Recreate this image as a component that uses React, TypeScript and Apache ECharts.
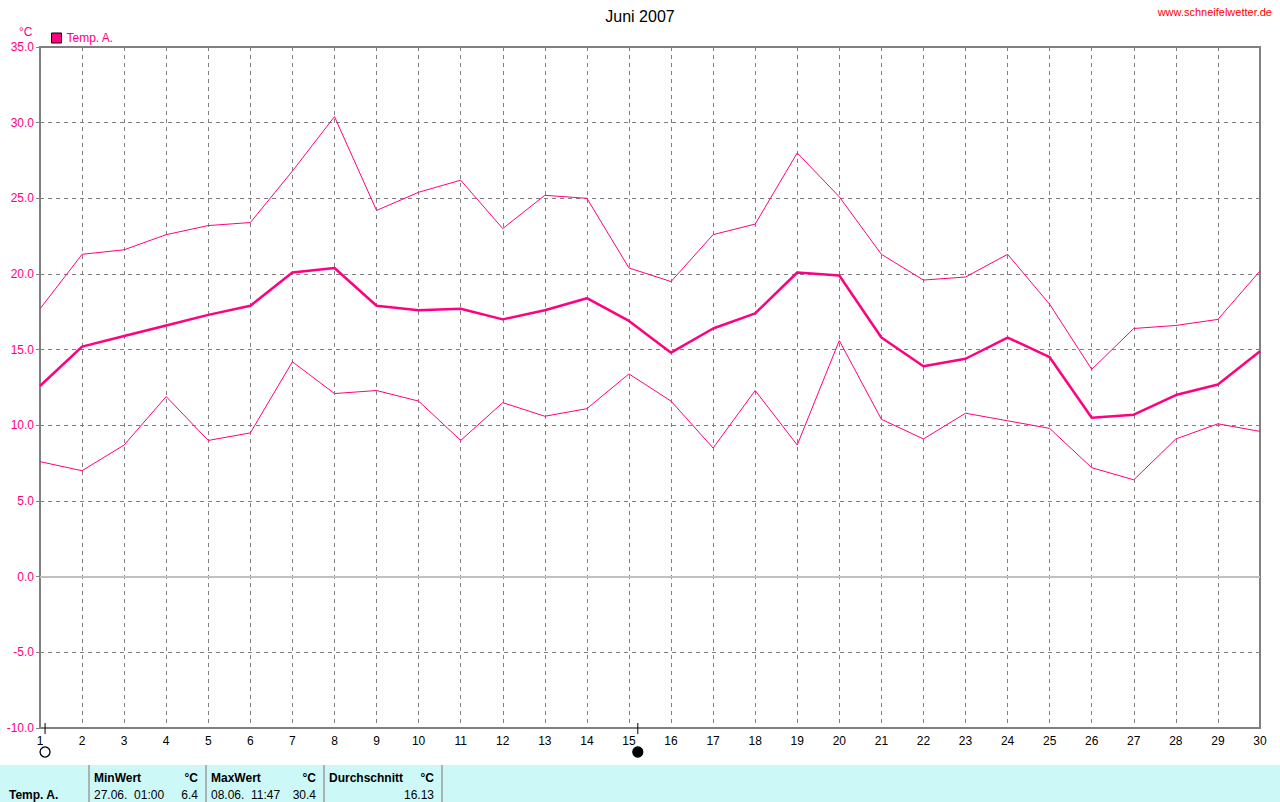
import React, { useEffect, useRef } from "react";
import * as echarts from "echarts";

const days = Array.from({ length: 30 }, (_, i) => i + 1);
const tempMax = [17.7, 21.3, 21.6, 22.6, 23.2, 23.4, 26.8, 30.4, 24.2, 25.4, 26.2, 23.0, 25.2, 25.0, 20.4, 19.5, 22.6, 23.3, 28.0, 25.1, 21.3, 19.6, 19.8, 21.3, 18.0, 13.7, 16.4, 16.6, 17.0, 20.2];
const tempMean = [12.6, 15.2, 15.9, 16.6, 17.3, 17.9, 20.1, 20.4, 17.9, 17.6, 17.7, 17.0, 17.6, 18.4, 16.9, 14.8, 16.4, 17.4, 20.1, 19.9, 15.8, 13.9, 14.4, 15.8, 14.5, 10.5, 10.7, 12.0, 12.7, 14.9];
const tempMin = [7.6, 7.0, 8.7, 11.9, 9.0, 9.5, 14.2, 12.1, 12.3, 11.6, 9.0, 11.5, 10.6, 11.1, 13.4, 11.6, 8.5, 12.3, 8.7, 15.6, 10.4, 9.1, 10.8, 10.3, 9.8, 7.2, 6.4, 9.1, 10.1, 9.6];
// moon phases: [day position, 0 = new moon, 1 = full moon]
const moonPhases = [[1.12, 0], [15.21, 1]];

const statsHeaders = ["MinWert", "MaxWert", "Durchschnitt"];
const statsDates = ["27.06.  01:00", "08.06.  11:47", ""];
const statsValues = ["6.4", "30.4", "16.13"];

const PINK = "#ff0080";
const GRAY = "#808080";
const FONT = "Liberation Sans, Arial, sans-serif";

export default function App() {
  const ref = useRef<HTMLDivElement>(null);
  useEffect(() => {
    document.body.style.margin = "0";
    const chart = echarts.init(ref.current!, null, { renderer: "svg" });

    const colX = [88, 205, 323, 441];
    const tableGraphics: any[] = [
      { type: "rect", shape: { x: 0, y: 765, width: 1280, height: 37 }, style: { fill: "#ccf8f8" }, silent: true },
      ...colX.map((x) => ({
        type: "rect",
        shape: { x: x, y: 765, width: 2, height: 37 },
        style: { fill: "#a8b4b4" },
        silent: true,
      })),
      { type: "text", style: { x: 9, y: 795, text: "Temp. A.", font: "bold 12px " + FONT, fill: "#000", textVerticalAlign: "middle" } },
    ];
    statsHeaders.forEach((h, i) => {
      const x0 = colX[i] + 6;
      const x1 = colX[i + 1] - 7;
      tableGraphics.push(
        { type: "text", style: { x: x0, y: 778, text: h, font: "bold 12px " + FONT, fill: "#000", textVerticalAlign: "middle" } },
        { type: "text", style: { x: x1, y: 778, text: "°C", font: "bold 12px " + FONT, fill: "#000", textAlign: "right", textVerticalAlign: "middle" } },
        { type: "text", style: { x: x0, y: 795, text: statsDates[i], font: "12px " + FONT, fill: "#000", textVerticalAlign: "middle" } },
        { type: "text", style: { x: x1, y: 795, text: statsValues[i], font: "12px " + FONT, fill: "#000", textAlign: "right", textVerticalAlign: "middle" } }
      );
    });

    chart.setOption({
      animation: false,
      backgroundColor: "#fff",
      textStyle: { fontFamily: FONT },
      title: {
        text: "Juni 2007",
        left: "center",
        top: 3,
        textStyle: { fontSize: 16, fontWeight: "normal", color: "#000", fontFamily: FONT },
      },
      legend: {
        data: ["Temp. A."],
        left: 46,
        top: 27,
        itemWidth: 10,
        itemHeight: 10,
        itemGap: 4,
        icon: "rect",
        itemStyle: { borderColor: "#000", borderWidth: 1 },
        textStyle: { color: PINK, fontSize: 12, fontFamily: FONT },
      },
      grid: {
        left: 40,
        right: 20,
        top: 47,
        bottom: 74,
        show: true,
        borderColor: GRAY,
        borderWidth: 2,
        backgroundColor: "transparent",
      },
      xAxis: {
        type: "value",
        min: 1,
        max: 30,
        interval: 1,
        axisLine: { show: true, lineStyle: { color: GRAY, width: 2 } },
        axisTick: { show: false },
        axisLabel: { color: "#000", fontSize: 12, margin: 7, fontFamily: FONT },
        splitLine: { show: true, lineStyle: { color: GRAY, type: [4, 4], width: 1 } },
      },
      yAxis: {
        type: "value",
        min: -10,
        max: 35,
        interval: 5,
        axisLine: { show: true, lineStyle: { color: GRAY, width: 2 } },
        axisTick: { show: true, length: 4, lineStyle: { color: GRAY, width: 1 } },
        axisLabel: { color: PINK, fontSize: 12, margin: 6, fontFamily: FONT, formatter: (v: number) => v.toFixed(1) },
        splitLine: { show: true, lineStyle: { color: GRAY, type: [4, 4], width: 1 } },
      },
      graphic: [
        { type: "text", style: { x: 19, y: 26, text: "°C", font: "12px " + FONT, fill: PINK } },
        { type: "text", style: { x: 1272, y: 6, text: "www.schneifelwetter.de", font: "11px " + FONT, fill: "#ff0000", textAlign: "right" } },
        ...tableGraphics,
      ],
      series: [
        {
          name: "Temp. A. min",
          type: "line",
          data: days.map((d, i) => [d, tempMin[i]]),
          showSymbol: false,
          symbol: "none",
          lineStyle: { color: PINK, width: 1 },
          itemStyle: { color: PINK },
          z: 3,
          markLine: {
            silent: true,
            symbol: "none",
            label: { show: false },
            lineStyle: { color: "#c0c0c0", width: 2, type: "solid" },
            data: [{ yAxis: 0 }],
            z: 1,
          },
        },
        {
          name: "Temp. A. max",
          type: "line",
          data: days.map((d, i) => [d, tempMax[i]]),
          showSymbol: false,
          symbol: "none",
          lineStyle: { color: PINK, width: 1 },
          itemStyle: { color: PINK },
          z: 3,
        },
        {
          name: "Temp. A.",
          type: "line",
          data: days.map((d, i) => [d, tempMean[i]]),
          showSymbol: false,
          symbol: "none",
          lineStyle: { color: PINK, width: 2.5 },
          itemStyle: { color: PINK },
          z: 4,
        },
        {
          name: "moon",
          type: "custom",
          clip: false,
          data: moonPhases,
          z: 5,
          renderItem: (params: any, api: any) => {
            const p = api.coord([api.value(0), -10]);
            const full = api.value(1) === 1;
            return {
              type: "group",
              children: [
                { type: "line", shape: { x1: p[0], y1: p[1] - 5, x2: p[0], y2: p[1] + 6 }, style: { stroke: "#000", lineWidth: 1 } },
                { type: "circle", shape: { cx: p[0], cy: p[1] + 24, r: 5 }, style: { fill: full ? "#000" : "#fff", stroke: "#000", lineWidth: 1.3 } },
              ],
            };
          },
        },
      ],
    });
    return () => chart.dispose();
  }, []);
  return <div ref={ref} style={{ width: 1280, height: 802 }} />;
}
